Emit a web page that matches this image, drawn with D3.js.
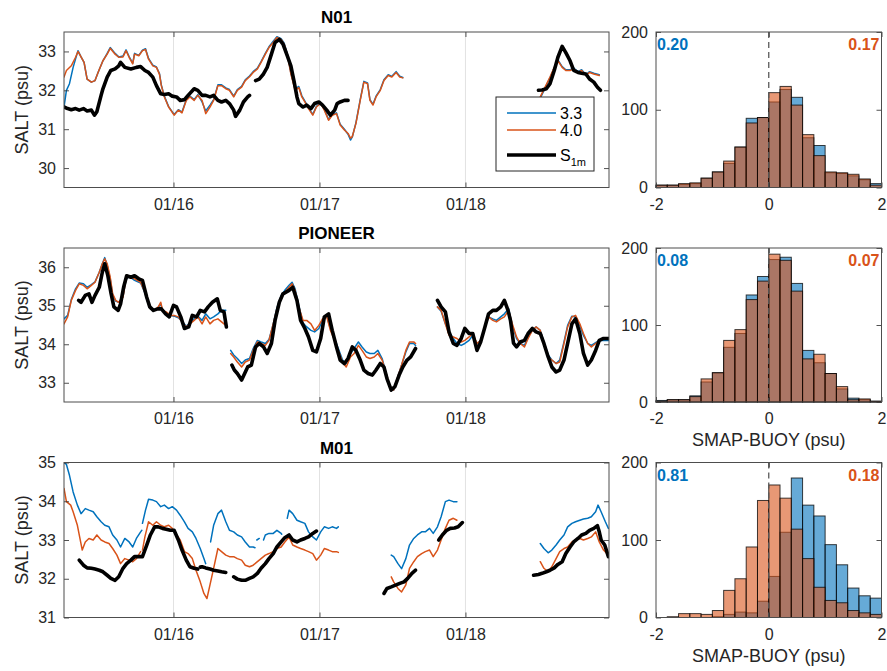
<!DOCTYPE html>
<html>
<head>
<meta charset="utf-8">
<script src="https://cdn.jsdelivr.net/npm/d3@7"></script>
<style>
  body { margin: 0; background: #fff; }
  svg { display: block; font-family: "Liberation Sans", Arial, Helvetica, sans-serif; }
</style>
</head>
<body>
<svg id="chart" width="887" height="671"></svg>
<script>
// ---------- data ----------
// Time is given in hours after 01/15 00:00; salinity in psu.
const stations = ["N01", "PIONEER", "M01"];
const dateTickLabels = ["01/16", "01/17", "01/18"];
const timeWindowHours = [6, 95.6];
const saltDomains = [[29.5, 33.5], [32.5, 36.5], [31, 35]];
const saltTicks = [[30, 31, 32, 33], [33, 34, 35, 36], [31, 32, 33, 34, 35]];
const legendNames = ["3.3", "4.0", "S"];
const legendSubs = ["", "", "1m"];

// N01
const n01Blue = [
  [[6.0,31.57],[6.4,32.00],[6.9,32.17],[7.5,32.59],[8.3,33.02],[8.8,32.86],[9.3,32.72],[9.8,32.29],[10.5,32.21],[11.1,32.25],[11.6,32.46],[12.4,32.76],[13.1,32.95],[13.6,33.10],[14.4,32.95],[15.0,32.86],[15.7,32.88],[16.2,33.04],[16.7,32.87],[17.3,32.70],[17.6,32.95],[18.3,32.90],[18.9,33.03],[19.4,33.07],[19.9,32.82],[20.6,32.65],[21.2,32.60],[21.7,32.43],[22.0,32.14],[22.5,31.85],[23.2,31.58],[24.1,31.38],[24.8,31.50],[25.4,31.44],[26.1,31.76],[26.7,31.85],[27.4,31.76],[28.0,31.89],[28.7,31.70],[29.3,31.47],[30.0,31.62],[30.6,31.76],[31.3,32.14],[31.9,32.14],[32.6,32.06],[33.2,32.02],[33.9,31.85],[34.5,32.02],[35.2,32.10],[35.8,32.27],[36.5,32.37],[37.1,32.48],[37.8,32.57],[38.4,32.74],[39.1,32.95],[39.7,33.12],[40.4,33.26],[41.0,33.38],[41.7,33.33],[42.2,33.21],[42.7,32.95],[43.3,32.44],[44.0,32.03],[44.6,32.10],[45.1,31.86],[45.6,31.72],[46.2,31.55],[46.9,31.38],[47.5,31.59],[48.2,31.68],[48.8,31.51],[49.5,31.25],[50.1,31.38],[50.8,31.42],[51.4,31.13],[52.1,31.00],[52.7,30.87],[53.1,30.72],[53.4,30.80],[54.0,31.17],[54.7,31.76],[55.3,32.23],[55.9,32.19],[56.3,31.76],[56.8,31.64],[57.3,31.85],[58.0,32.02],[58.6,32.27],[59.3,32.40],[59.9,32.36],[60.6,32.48],[61.2,32.36],[61.7,32.33]],
  [[84.3,31.80],[85.9,32.32],[86.6,32.58],[87.2,32.78],[87.9,32.61],[88.5,32.53],[89.2,32.53],[89.8,32.57],[90.5,32.48],[91.1,32.53],[91.8,32.40],[92.4,32.48],[93.1,32.44],[94.0,32.40]]
];
const n01Orange = [
  [[6.0,32.34],[6.4,32.51],[7.2,32.63],[7.9,32.85],[8.3,33.00],[8.8,32.86],[9.3,32.72],[9.8,32.29],[10.5,32.21],[11.1,32.25],[11.6,32.46],[12.4,32.76],[13.1,32.93],[13.6,33.08],[14.4,32.93],[15.0,32.85],[15.7,32.86],[16.2,33.02],[16.7,32.85],[17.3,32.68],[17.6,32.93],[18.3,32.89],[18.9,33.02],[19.4,33.05],[19.9,32.80],[20.6,32.63],[21.2,32.59],[21.7,32.41],[22.0,32.12],[22.5,31.83],[23.2,31.57],[24.1,31.36],[24.8,31.49],[25.4,31.42],[26.1,31.74],[26.7,31.83],[27.4,31.74],[28.0,31.87],[28.7,31.74],[29.3,31.40],[30.0,31.57],[30.6,31.74],[31.3,32.12],[31.9,32.12],[32.6,32.04],[33.2,32.00],[33.9,31.83],[34.5,32.00],[35.2,32.08],[35.8,32.25],[36.5,32.35],[37.1,32.46],[37.8,32.55],[38.4,32.72],[39.1,32.93],[39.7,33.10],[40.4,33.23],[41.0,33.36],[41.7,33.31],[42.2,33.19],[42.7,32.93],[43.3,32.42],[44.0,32.00],[44.6,32.07],[45.1,31.83],[45.6,31.70],[46.2,31.53],[46.9,31.36],[47.5,31.57],[48.2,31.66],[48.8,31.49],[49.5,31.23],[50.1,31.36],[50.8,31.40],[51.4,31.11],[52.1,30.98],[52.7,30.89],[53.1,30.77],[53.4,30.81],[54.0,31.15],[54.7,31.74],[55.3,32.21],[55.9,32.17],[56.3,31.74],[56.8,31.62],[57.3,31.83],[58.0,32.00],[58.6,32.25],[59.3,32.38],[59.9,32.34],[60.6,32.46],[61.2,32.34],[61.7,32.32]],
  [[84.3,31.83],[85.9,32.34],[86.6,32.59],[87.2,32.76],[87.9,32.59],[88.5,32.51],[89.2,32.51],[89.8,32.55],[90.5,32.46],[91.1,32.51],[91.8,32.38],[92.4,32.46],[93.1,32.42],[94.0,32.38]]
];
const n01S1m = [
  [[6.0,31.57],[6.6,31.53],[7.2,31.50],[7.9,31.53],[8.5,31.49],[9.2,31.53],[9.8,31.47],[10.5,31.49],[11.0,31.36],[11.4,31.45],[12.1,31.87],[12.4,32.04],[13.1,32.34],[13.7,32.51],[14.4,32.55],[15.0,32.63],[15.3,32.72],[16.0,32.59],[17.0,32.55],[17.9,32.59],[18.6,32.61],[19.3,32.51],[19.9,32.46],[20.6,32.34],[21.2,32.12],[21.9,31.91],[22.5,31.89],[23.2,31.91],[23.8,31.85],[24.5,31.83],[25.1,31.74],[25.8,31.76],[26.4,31.87],[27.4,32.04],[28.0,32.00],[28.7,31.87],[29.3,31.87],[30.0,31.83],[30.6,31.87],[31.3,31.74],[31.9,31.70],[32.6,31.74],[33.2,31.66],[33.9,31.49],[34.2,31.33],[34.9,31.49],[35.5,31.70],[36.2,31.83],[36.5,31.87]],
  [[37.5,32.25],[38.1,32.29],[38.8,32.42],[39.4,32.59],[40.1,32.93],[40.7,33.23],[41.4,33.31],[42.0,33.19],[42.7,32.89],[43.3,32.63],[43.8,32.25],[44.3,31.83],[44.6,31.66],[45.3,31.57],[45.9,31.62],[46.6,31.53],[47.2,31.66],[47.9,31.70],[48.5,31.62],[49.2,31.49],[49.8,31.36],[50.5,31.49],[50.9,31.66],[51.4,31.70],[52.1,31.74],[52.7,31.74]],
  [[84.0,32.00],[84.6,32.01],[85.3,32.04],[85.9,32.17],[86.6,32.51],[87.2,32.85],[87.9,33.13],[88.5,32.97],[89.2,32.76],[89.8,32.51],[90.5,32.46],[91.1,32.44],[91.8,32.42],[92.4,32.29],[93.1,32.21],[93.7,32.08],[94.2,32.00]]
];

// PIONEER
const pioneerBlue = [
  [[6.0,34.66],[6.6,34.75],[7.2,35.16],[7.9,35.44],[8.5,35.59],[9.2,35.57],[9.8,35.48],[10.5,35.55],[11.1,35.62],[11.8,35.87],[12.3,36.09],[12.7,36.25],[13.1,36.05],[13.6,35.70],[14.0,35.28],[14.5,35.12],[15.0,35.09],[15.7,35.24],[16.2,35.68],[16.7,35.76],[17.6,35.66],[18.6,35.59],[19.3,35.33],[19.7,35.12],[20.2,34.92],[20.9,34.88],[21.5,34.95],[21.9,35.05],[22.2,34.88],[22.8,34.82],[23.5,34.75],[24.1,34.73],[24.8,34.69],[25.4,34.60],[26.1,34.47],[26.7,34.55],[27.4,34.66],[28.0,34.73],[28.7,34.62],[29.3,34.79],[30.0,34.66],[30.6,34.71],[31.3,34.79],[31.9,34.88],[32.6,34.88]],
  [[33.4,33.84],[33.9,33.72],[34.5,33.63],[35.2,33.50],[35.8,33.59],[36.5,33.63],[37.1,33.89],[37.8,34.10],[38.4,34.06],[39.1,34.02],[39.7,34.12],[40.4,34.53],[41.0,34.95],[41.7,35.26],[42.3,35.40],[43.0,35.53],[43.5,35.61],[44.0,35.44],[44.6,35.01],[45.3,34.55],[45.9,34.45],[46.6,34.36],[47.2,34.32],[47.9,34.41],[48.5,34.62],[49.2,34.73],[49.8,34.40],[50.5,34.14],[51.1,33.89],[51.8,33.59],[52.4,33.50],[53.1,33.76],[53.7,33.89],[54.4,34.06],[55.0,33.93],[55.7,33.80],[56.3,33.76],[57.0,33.76],[57.6,33.84],[58.3,33.63],[58.9,33.28],[59.6,32.88],[60.2,32.81],[60.9,33.16],[61.5,33.46],[62.2,33.80],[62.8,34.02],[63.5,34.02],[63.8,33.97]],
  [[67.4,34.97],[68.0,34.86],[68.7,34.53],[69.3,34.32],[70.0,34.15],[70.6,34.02],[71.3,33.97],[71.9,34.02],[72.6,34.10],[73.2,34.23],[73.9,34.02],[74.5,34.10],[75.2,34.45],[75.8,34.71],[76.5,34.66],[77.1,34.62],[77.8,34.71],[78.4,34.79],[79.1,34.92],[79.7,34.49],[80.4,34.15],[81.0,34.02],[81.7,33.97],[82.3,34.19],[83.0,34.36],[83.6,34.45],[84.3,34.36],[84.9,34.06],[85.6,33.72],[86.2,33.59],[86.9,33.50],[87.5,33.59],[88.2,34.06],[88.8,34.49],[89.5,34.73],[90.1,34.71],[90.8,34.49],[91.4,34.23],[92.1,34.02],[92.7,33.97],[93.4,34.04],[94.0,34.10],[94.7,34.10],[95.5,34.10]]
];
const pioneerOrange = [
  [[6.0,34.53],[6.6,34.71],[7.2,35.14],[7.9,35.40],[8.5,35.57],[9.2,35.53],[9.8,35.44],[10.5,35.53],[11.1,35.61],[11.8,35.87],[12.3,36.09],[12.7,36.22],[13.1,36.09],[13.6,35.74],[14.0,35.31],[14.5,35.14],[15.0,35.09],[15.7,35.22],[16.2,35.70],[16.7,35.78],[17.6,35.70],[18.6,35.61],[19.3,35.35],[19.7,35.14],[20.2,34.92],[20.9,34.88],[21.5,34.97],[21.9,35.09],[22.2,34.88],[22.8,34.84],[23.5,34.75],[24.1,34.75],[24.8,34.71],[25.4,34.58],[26.1,34.45],[26.7,34.53],[27.4,34.62],[28.0,34.71],[28.7,34.53],[29.3,34.71],[30.0,34.53],[30.6,34.62],[31.3,34.66],[31.9,34.58],[32.6,34.49]],
  [[33.4,33.76],[33.9,33.67],[34.5,33.54],[35.2,33.41],[35.8,33.54],[36.5,33.59],[37.1,33.84],[37.8,34.06],[38.4,34.02],[39.1,33.97],[39.7,34.10],[40.4,34.53],[41.0,34.92],[41.7,35.22],[42.3,35.35],[43.0,35.48],[43.5,35.57],[44.0,35.40],[44.6,34.97],[45.3,34.62],[45.9,34.62],[46.6,34.53],[47.2,34.36],[47.9,34.49],[48.5,34.66],[49.2,34.71],[49.8,34.36],[50.5,34.10],[51.1,33.84],[51.8,33.54],[52.4,33.41],[53.1,33.67],[53.7,33.76],[54.4,33.97],[55.0,33.84],[55.7,33.67],[56.3,33.63],[57.0,33.67],[57.6,33.76],[58.3,33.59],[58.9,33.28],[59.6,32.90],[60.2,32.81],[60.9,33.16],[61.5,33.46],[62.2,33.84],[62.8,34.06],[63.5,34.06],[63.8,34.02]],
  [[67.4,34.97],[68.0,34.88],[68.7,34.53],[69.3,34.23],[70.0,34.19],[70.6,34.15],[71.3,34.06],[71.9,34.10],[72.6,34.19],[73.2,34.28],[73.9,34.02],[74.5,34.10],[75.2,34.45],[75.8,34.71],[76.5,34.62],[77.1,34.58],[77.8,34.66],[78.4,34.71],[79.1,34.88],[79.7,34.53],[80.4,34.19],[81.0,34.02],[81.7,33.93],[82.3,34.15],[83.0,34.36],[83.6,34.45],[84.3,34.36],[84.9,34.02],[85.6,33.67],[86.2,33.59],[86.9,33.50],[87.5,33.54],[88.2,34.02],[88.8,34.45],[89.5,34.71],[90.1,34.75],[90.8,34.53],[91.4,34.28],[92.1,34.02],[92.7,33.93],[93.4,34.02],[94.0,34.10],[94.7,34.15],[95.5,34.15]]
];
const pioneerS1m = [
  [[8.4,35.14],[8.8,35.09],[9.5,35.27],[10.1,35.31],[10.6,35.09],[11.1,35.27],[11.8,35.48],[12.3,35.87],[12.7,36.09],[13.2,35.79],[13.7,35.35],[14.2,34.97],[14.9,34.88],[15.3,35.05],[15.8,35.48],[16.3,35.78],[17.0,35.74],[17.6,35.78],[18.3,35.70],[18.9,35.66],[19.6,35.22],[20.1,34.97],[20.7,34.88],[21.4,34.92],[22.0,34.92],[22.7,34.79],[23.3,34.71],[24.0,35.01],[24.5,34.97],[25.2,34.71],[25.8,34.41],[26.5,34.45],[27.1,34.75],[27.8,34.71],[28.4,34.88],[29.1,34.84],[29.7,34.97],[30.4,35.09],[31.2,35.18],[31.7,34.88],[32.3,34.84],[32.7,34.45]],
  [[33.6,33.46],[34.0,33.33],[34.5,33.24],[35.2,33.07],[35.7,33.24],[36.2,33.41],[36.8,33.46],[37.5,33.93],[38.1,34.02],[38.8,33.93],[39.4,33.76],[40.1,34.02],[40.7,34.62],[41.4,35.09],[42.0,35.31],[43.0,35.40],[43.6,35.48],[44.3,35.14],[44.9,34.62],[45.6,34.41],[46.2,34.19],[46.9,33.84],[47.5,33.80],[48.2,34.15],[48.8,34.71],[49.5,34.79],[50.1,34.36],[50.8,33.93],[51.4,33.59],[52.1,33.50],[52.7,33.63],[53.4,33.93],[54.0,33.84],[54.7,33.59],[55.3,33.33],[56.0,33.24],[56.7,33.20],[57.3,33.33],[58.0,33.50],[58.6,33.41],[59.1,33.11],[59.8,32.81],[60.4,32.90],[61.1,33.20],[61.7,33.41],[62.4,33.59],[63.0,33.67],[63.8,33.89]],
  [[67.4,35.14],[68.0,34.97],[68.7,34.84],[69.3,34.32],[70.0,34.02],[70.6,33.97],[71.3,34.15],[71.9,34.41],[72.6,34.28],[73.2,34.28],[73.9,33.84],[74.5,34.06],[75.2,34.45],[75.8,34.79],[76.5,34.88],[77.1,34.88],[77.8,34.97],[78.4,35.14],[79.0,34.88],[79.4,34.62],[79.9,34.03],[80.4,33.93],[81.0,34.06],[81.7,34.10],[82.3,34.28],[83.0,34.41],[83.6,34.32],[84.3,34.28],[84.9,34.02],[85.6,33.67],[86.2,33.41],[86.9,33.28],[87.5,33.33],[88.2,33.59],[88.8,34.02],[89.5,34.53],[90.1,34.66],[90.8,34.28],[91.4,33.76],[92.1,33.46],[92.7,33.59],[93.4,33.84],[94.0,34.10],[94.7,34.15],[95.5,34.15]]
];

// M01
const m01Blue = [
  [[6.0,35.00],[6.4,34.95],[6.9,34.67],[7.5,34.24],[8.2,33.90],[8.8,33.68],[9.5,33.81],[10.1,33.77],[10.8,33.73],[11.4,33.60],[12.1,33.47],[12.7,33.38],[13.4,33.34],[14.0,33.13],[14.7,33.00],[15.3,32.82],[16.0,33.04],[16.7,32.95],[17.3,32.82],[17.9,33.04],[18.6,33.21],[18.8,33.25]],
  [[18.9,33.43],[19.4,33.77],[19.9,34.05],[20.6,34.03],[21.2,33.99],[21.9,33.86],[22.5,33.90],[23.2,33.81],[23.8,33.86],[24.5,33.77],[25.1,33.64],[25.8,33.47],[26.4,33.30],[27.1,33.21],[27.7,33.04],[28.4,32.78],[29.0,32.52],[29.3,32.39]],
  [[30.1,32.95],[30.6,33.38],[31.3,33.68],[31.9,33.77],[32.6,33.47],[33.2,33.25],[33.9,33.21],[34.5,33.13],[35.2,33.08],[35.8,32.95],[36.5,32.82],[37.1,32.82],[37.4,32.80]],
  [[37.7,33.00],[38.1,33.04]],
  [[38.8,33.00],[39.1,33.13],[39.7,33.17],[40.4,33.17],[41.0,33.25],[41.7,33.17],[41.8,33.15]],
  [[42.7,33.56],[43.0,33.77],[43.6,33.68],[44.3,33.51],[44.9,33.47],[45.6,33.43],[46.2,33.21],[46.9,33.08],[47.5,33.00],[48.2,33.21],[48.8,33.34],[49.5,33.30],[50.1,33.34],[50.8,33.30],[51.1,33.34]],
  [[59.8,32.61],[60.2,32.57],[60.9,32.39],[61.5,32.26],[62.2,32.52],[62.8,32.87],[63.5,33.04],[64.1,33.13],[64.8,33.21],[65.4,33.21],[66.1,33.30],[66.7,33.17],[67.4,33.34],[68.0,33.60],[68.7,33.99],[69.3,34.03],[70.0,33.99],[70.6,33.99]],
  [[84.3,32.91],[84.9,32.78],[85.6,32.67],[86.2,32.74],[86.9,32.87],[87.5,33.00],[88.2,33.13],[88.8,33.34],[89.5,33.43],[90.1,33.47],[90.8,33.51],[91.4,33.54],[92.1,33.56],[92.7,33.60],[93.4,33.73],[93.8,33.90],[94.3,33.73],[95.0,33.47],[95.5,33.30]]
];
const m01Orange = [
  [[6.0,34.33],[6.4,33.99],[7.1,33.90],[7.5,33.73],[8.2,33.38],[9.0,32.74],[9.5,32.95],[10.1,33.04],[10.8,33.00],[11.4,33.13],[12.1,33.00],[12.7,32.95],[13.4,32.91],[14.0,32.78],[14.7,32.61],[15.3,32.39],[16.0,32.52],[16.7,32.48],[17.3,32.44],[17.9,32.52],[18.6,32.70]],
  [[18.9,32.74],[19.3,33.08],[19.9,33.47],[20.6,33.38],[21.2,33.47],[21.9,33.38],[22.5,33.34],[23.2,33.38],[23.8,33.30],[24.5,33.13],[25.1,33.00],[25.8,32.70],[26.4,32.65],[27.1,32.52],[27.7,32.22],[28.4,31.92],[29.0,31.62],[29.5,31.49],[30.0,31.84],[30.6,32.27],[31.3,32.78],[31.9,32.70],[32.6,32.61],[33.2,32.57],[33.9,32.57],[34.5,32.52],[35.2,32.48],[35.8,32.35],[36.5,32.31],[37.1,32.35],[37.8,32.44],[38.4,32.52],[39.1,32.61],[39.7,32.65],[40.4,32.70],[41.0,32.78],[41.7,32.82],[42.3,32.95],[43.0,33.08],[43.6,32.87],[44.3,32.82],[44.9,32.78],[45.6,32.74],[46.2,32.70],[46.9,32.65],[47.5,32.48],[48.2,32.61],[48.8,32.78],[49.5,32.74],[50.1,32.70],[50.8,32.70],[51.1,32.68]],
  [[59.8,32.05],[60.2,31.92],[60.9,31.75],[61.5,31.66],[62.2,31.84],[62.8,32.27],[63.5,32.44],[64.1,32.57],[64.8,32.65],[65.4,32.70],[66.1,32.74],[66.7,32.57],[67.4,32.74],[68.0,33.00],[68.7,33.30],[69.3,33.51],[70.0,33.56],[70.6,33.51]],
  [[84.3,32.44],[84.9,32.27],[85.6,32.18],[86.2,32.31],[86.9,32.52],[87.5,32.70],[88.2,32.78],[88.8,32.82],[89.5,32.95],[90.1,33.00],[90.8,33.04],[91.4,33.00],[92.1,33.04],[92.7,33.08],[93.4,33.21],[94.0,32.95],[94.7,32.74],[95.5,32.61]]
];
const m01S1m = [
  [[8.5,32.48],[9.2,32.35],[9.8,32.28],[10.5,32.27],[11.1,32.25],[11.8,32.22],[12.4,32.18],[13.1,32.09],[13.7,32.01],[14.4,31.96],[15.0,32.05],[15.7,32.27],[16.3,32.39],[17.0,32.48],[17.6,32.57],[18.3,32.57],[18.9,32.57],[19.6,32.87],[20.2,33.13],[20.9,33.34],[21.5,33.34],[22.2,33.30],[22.8,33.28],[23.5,33.25],[24.1,33.25],[24.8,33.00],[25.4,32.74],[26.1,32.48],[26.7,32.31],[27.4,32.27],[28.0,32.25]],
  [[28.4,32.30],[28.7,32.31],[29.3,32.28],[30.0,32.25],[30.6,32.22],[31.3,32.20],[31.9,32.18],[32.6,32.16]],
  [[33.9,32.05],[34.5,31.99],[35.2,31.96],[35.8,31.96],[36.5,32.01],[37.1,32.05],[37.8,32.14],[38.4,32.27],[39.1,32.39],[39.7,32.52],[40.4,32.65],[41.0,32.82],[41.7,32.95],[42.3,33.06],[43.0,33.13],[43.6,33.00],[44.3,32.95],[44.9,33.00],[45.6,33.04],[46.2,33.08],[46.9,33.17],[47.5,33.23]],
  [[58.6,31.62],[59.1,31.75],[59.8,31.79],[60.6,31.84],[61.2,31.88],[61.9,31.92],[62.5,32.01],[63.2,32.14],[63.8,32.22]],
  [[67.6,33.00],[68.2,33.13],[68.9,33.25],[69.5,33.30],[70.2,33.31],[70.8,33.34],[71.5,33.45]],
  [[83.2,32.09],[84.0,32.11],[84.6,32.14],[85.3,32.18],[85.9,32.22],[86.6,32.28],[87.2,32.37],[87.9,32.44],[88.5,32.65],[89.2,32.82],[89.8,32.95],[90.5,33.04],[91.1,33.13],[91.8,33.17],[92.4,33.25],[93.1,33.30],[93.7,33.37],[94.0,33.21],[94.3,33.00],[94.9,32.87],[95.5,32.57]]
];

// Histograms of SMAP-BUOY differences, 0.2 psu bins from -2 to 2
const binStart = -2;
const binWidth = 0.2;
const histXTicks = [-2, 0, 2];
const histYTicks = [0, 100, 200];
const n01Hist33 = [3,3,4,5,12,20,31,52,89,90,110,126,116,64,54,19,18,15,10,5];
const n01Hist40 = [3,3,5,6,12,20,34,52,83,90,122,130,106,68,41,20,19,17,11,3];
const pioneerHist33 = [2,3,3,8,26,38,71,89,139,163,185,188,154,67,51,37,17,5,3,1];
const pioneerHist40 = [1,3,3,7,30,38,80,94,133,157,192,184,144,56,62,37,20,3,4,1];
const m01Hist33 = [0,0,0,0,0,1,4,7,6,21,53,110,180,145,131,94,68,38,28,25];
const m01Hist40 = [0,1,5,5,4,9,35,50,91,151,171,154,114,76,39,22,19,9,6,4];
const rmsd33 = ["0.20", "0.08", "0.81"];
const rmsd40 = ["0.17", "0.07", "0.18"];

// ---------- drawing ----------
const panels = [
  { series: [n01Blue, n01Orange, n01S1m], hist: [n01Hist33, n01Hist40], xlabel: false },
  { series: [pioneerBlue, pioneerOrange, pioneerS1m], hist: [pioneerHist33, pioneerHist40], xlabel: true },
  { series: [m01Blue, m01Orange, m01S1m], hist: [m01Hist33, m01Hist40], xlabel: true }
];

const L = { tsLeft: 64, tsRight: 609, hLeft: 656, hRight: 881.5,
            tops: [32, 248, 462.5], bottoms: [187.5, 402, 617.5] };
const colors = ["#0072BD", "#D95319", "#000000"];
const widths = [1.5, 1.5, 3.6];
const ink = "#262626";

const svg = d3.select("#chart");
const parseDay = d3.timeParse("%m/%d");
const t0 = parseDay("01/15");
const at = h => new Date(+t0 + h * 3600e3);
const tickDates = dateTickLabels.map(parseDay);

function styleAxis(g, size) {
  g.select(".domain").remove();
  g.selectAll(".tick line").attr("stroke", ink).attr("stroke-width", 0.8);
  g.selectAll(".tick text").attr("fill", ink).attr("font-size", size)
    .attr("font-family", '"Liberation Sans", Arial, sans-serif');
}

panels.forEach((p, i) => {
  const top = L.tops[i], bottom = L.bottoms[i];
  const g = svg.append("g");

  // ---- time series ----
  const x = d3.scaleTime().domain(timeWindowHours.map(at)).range([L.tsLeft, L.tsRight]);
  const y = d3.scaleLinear().domain(saltDomains[i]).range([bottom, top]);

  g.append("rect").attr("x", L.tsLeft).attr("y", top)
    .attr("width", L.tsRight - L.tsLeft).attr("height", bottom - top).attr("fill", "#fff");

  g.selectAll(null).data(tickDates).join("line")
    .attr("x1", d => x(d)).attr("x2", d => x(d))
    .attr("y1", top).attr("y2", bottom)
    .attr("stroke", "#e2e2e2").attr("stroke-width", 1);

  const clipId = "clip" + i;
  svg.append("clipPath").attr("id", clipId).append("rect")
    .attr("x", L.tsLeft).attr("y", top).attr("width", L.tsRight - L.tsLeft).attr("height", bottom - top);

  const line = d3.line().x(d => x(at(d[0]))).y(d => y(d[1])).curve(d3.curveLinear);
  const lines = g.append("g").attr("clip-path", `url(#${clipId})`);
  p.series.forEach((segs, k) => {
    lines.selectAll(null).data(segs).join("path")
      .attr("d", line).attr("fill", "none")
      .attr("stroke", colors[k]).attr("stroke-width", widths[k])
      .attr("stroke-linejoin", "round").attr("stroke-linecap", "round");
  });

  const xb = g.append("g").attr("transform", `translate(0,${bottom})`)
    .call(d3.axisBottom(x).tickValues(tickDates).tickFormat(d3.timeFormat("%m/%d"))
      .tickSizeInner(-5).tickSizeOuter(0).tickPadding(11));
  styleAxis(xb, 16);
  const xt = g.append("g").attr("transform", `translate(0,${top})`)
    .call(d3.axisTop(x).tickValues(tickDates).tickFormat("").tickSizeInner(-5).tickSizeOuter(0));
  styleAxis(xt, 16);
  const yl = g.append("g").attr("transform", `translate(${L.tsLeft},0)`)
    .call(d3.axisLeft(y).tickValues(saltTicks[i]).tickFormat(d3.format("d"))
      .tickSizeInner(-5).tickSizeOuter(0).tickPadding(8));
  styleAxis(yl, 16);
  const yr = g.append("g").attr("transform", `translate(${L.tsRight},0)`)
    .call(d3.axisRight(y).tickValues(saltTicks[i]).tickFormat("").tickSizeInner(-5).tickSizeOuter(0));
  styleAxis(yr, 16);

  g.append("rect").attr("x", L.tsLeft).attr("y", top)
    .attr("width", L.tsRight - L.tsLeft).attr("height", bottom - top)
    .attr("fill", "none").attr("stroke", "#4d4d4d").attr("stroke-width", 1);

  g.append("text").attr("x", (L.tsLeft + L.tsRight) / 2).attr("y", top - 9)
    .attr("text-anchor", "middle").attr("font-size", 17).attr("font-weight", "bold")
    .attr("fill", "#000").text(stations[i]);

  g.append("text").attr("transform", `translate(22,${(top + bottom) / 2}) rotate(-90)`)
    .attr("text-anchor", "middle").attr("dy", "0.35em").attr("font-size", 18)
    .attr("fill", ink).text("SALT (psu)");

  // ---- histogram ----
  const hx = d3.scaleLinear().domain([histXTicks[0], histXTicks[histXTicks.length - 1]]).range([L.hLeft, L.hRight]);
  const hy = d3.scaleLinear().domain([histYTicks[0], histYTicks[histYTicks.length - 1]]).range([bottom, top]);
  const hg = g.append("g");
  hg.append("rect").attr("x", L.hLeft).attr("y", top)
    .attr("width", L.hRight - L.hLeft).attr("height", bottom - top).attr("fill", "#fff");

  p.hist.forEach((counts, k) => {
    const bins = counts.map((c, j) => ({ c, x0: binStart + j * binWidth, x1: binStart + (j + 1) * binWidth }))
      .filter(b => b.c > 0);
    hg.selectAll(null).data(bins).join("rect")
      .attr("x", b => hx(b.x0)).attr("width", b => hx(b.x1) - hx(b.x0))
      .attr("y", b => hy(b.c)).attr("height", b => hy(0) - hy(b.c))
      .attr("fill", colors[k]).attr("fill-opacity", 0.6)
      .attr("stroke", "#000").attr("stroke-opacity", 0.75).attr("stroke-width", 1);
  });

  hg.append("line").attr("x1", hx(0)).attr("x2", hx(0)).attr("y1", top).attr("y2", bottom)
    .attr("stroke", "#5a5a5a").attr("stroke-width", 1.3).attr("stroke-dasharray", "6,4");

  const hb = hg.append("g").attr("transform", `translate(0,${bottom})`)
    .call(d3.axisBottom(hx).tickValues(histXTicks).tickFormat(d3.format("d"))
      .tickSizeInner(-5).tickSizeOuter(0).tickPadding(11));
  styleAxis(hb, 16);
  hb.selectAll(".tick text").text(d => d < 0 ? "-" + Math.abs(d) : d);
  const ht = hg.append("g").attr("transform", `translate(0,${top})`)
    .call(d3.axisTop(hx).tickValues(histXTicks).tickFormat("").tickSizeInner(-5).tickSizeOuter(0));
  styleAxis(ht, 16);
  const hl = hg.append("g").attr("transform", `translate(${L.hLeft},0)`)
    .call(d3.axisLeft(hy).tickValues(histYTicks).tickSizeInner(-5).tickSizeOuter(0).tickPadding(8));
  styleAxis(hl, 16);
  const hr = hg.append("g").attr("transform", `translate(${L.hRight},0)`)
    .call(d3.axisRight(hy).tickValues(histYTicks).tickFormat("").tickSizeInner(-5).tickSizeOuter(0));
  styleAxis(hr, 16);

  hg.append("rect").attr("x", L.hLeft).attr("y", top)
    .attr("width", L.hRight - L.hLeft).attr("height", bottom - top)
    .attr("fill", "none").attr("stroke", "#4d4d4d").attr("stroke-width", 1);

  hg.append("text").attr("x", L.hLeft + 1).attr("y", top + 18)
    .attr("font-size", 16).attr("font-weight", "bold").attr("fill", colors[0]).text(rmsd33[i]);
  hg.append("text").attr("x", L.hRight - 2).attr("y", top + 18).attr("text-anchor", "end")
    .attr("font-size", 16).attr("font-weight", "bold").attr("fill", colors[1]).text(rmsd40[i]);

  if (p.xlabel) {
    hg.append("text").attr("x", (L.hLeft + L.hRight) / 2).attr("y", bottom + 38)
      .attr("dy", "0.35em").attr("text-anchor", "middle").attr("font-size", 18)
      .attr("fill", ink).text("SMAP-BUOY (psu)");
  }
});

// ---- legend in the N01 panel ----
const lg = svg.append("g").attr("transform", "translate(496,97)");
lg.append("rect").attr("width", 98).attr("height", 74)
  .attr("fill", "#fff").attr("stroke", "#262626").attr("stroke-width", 1);
const rowsY = [16, 33, 58];
legendNames.forEach((name, k) => {
  lg.append("line").attr("x1", 11).attr("x2", 60).attr("y1", rowsY[k]).attr("y2", rowsY[k])
    .attr("stroke", colors[k]).attr("stroke-width", widths[k]);
  const t = lg.append("text").attr("x", 64).attr("y", rowsY[k]).attr("dy", "0.35em")
    .attr("font-size", 16).attr("fill", "#000").text(name);
  if (legendSubs[k]) {
    t.append("tspan").attr("font-size", 11).attr("dy", "0.45em").text(legendSubs[k]);
  }
});
</script>
</body>
</html>
